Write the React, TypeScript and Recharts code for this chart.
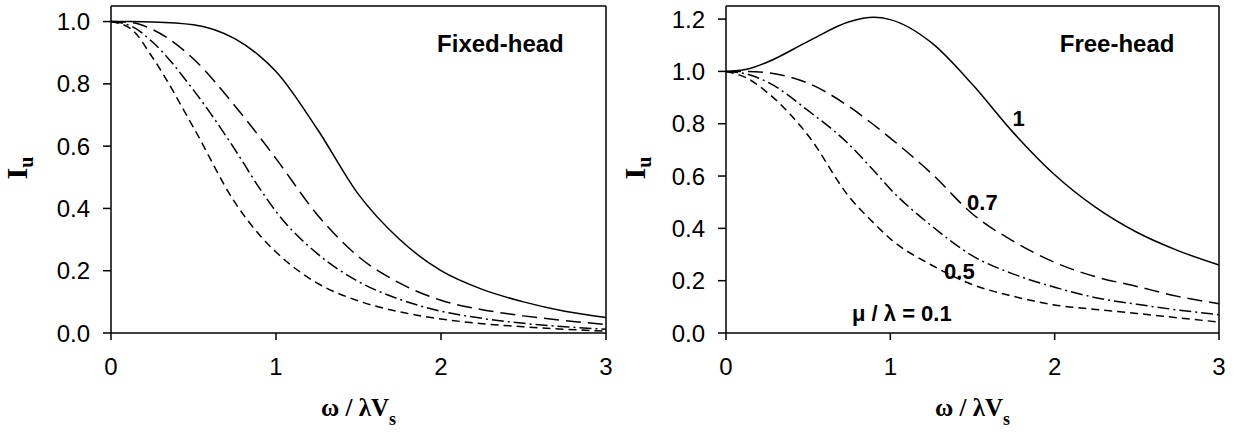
import React from 'react';
import { LineChart, Line, XAxis, YAxis, ReferenceLine, ReferenceDot } from 'recharts';

// x = omega / (lambda Vs)
const xs = [0, 0.125, 0.25, 0.5, 0.75, 0.9, 1.0, 1.25, 1.5, 1.75, 2.0, 2.25, 2.5, 2.75, 3.0];

// Fixed-head, I_u for mu/lambda = 1, 0.7, 0.5, 0.1
const fixedMu1 = [1.0, 1.0, 0.999, 0.99, 0.945, 0.89, 0.84, 0.655, 0.445, 0.3, 0.2, 0.14, 0.1, 0.07, 0.05];
const fixedMu07 = [1.0, 0.997, 0.975, 0.88, 0.73, 0.63, 0.56, 0.38, 0.245, 0.16, 0.105, 0.075, 0.055, 0.04, 0.027];
const fixedMu05 = [1.0, 0.985, 0.935, 0.78, 0.59, 0.465, 0.39, 0.255, 0.165, 0.108, 0.07, 0.047, 0.031, 0.02, 0.012];
const fixedMu01 = [1.0, 0.975, 0.886, 0.66, 0.42, 0.315, 0.26, 0.16, 0.103, 0.068, 0.045, 0.03, 0.02, 0.012, 0.006];

// Free-head
const freeMu1 = [1.0, 1.008, 1.035, 1.115, 1.19, 1.207, 1.198, 1.11, 0.95, 0.765, 0.605, 0.48, 0.385, 0.315, 0.26];
const freeMu07 = [1.0, 1.0, 0.995, 0.955, 0.865, 0.795, 0.745, 0.61, 0.455, 0.35, 0.27, 0.215, 0.178, 0.14, 0.112];
const freeMu05 = [1.0, 0.99, 0.96, 0.85, 0.72, 0.62, 0.55, 0.41, 0.295, 0.225, 0.175, 0.135, 0.11, 0.088, 0.07];
const freeMu01 = [1.0, 0.975, 0.92, 0.755, 0.52, 0.42, 0.36, 0.26, 0.185, 0.14, 0.107, 0.09, 0.075, 0.058, 0.042];

const xTicks = [0, 1, 2, 3];
const fixedYTicks = [0, 0.2, 0.4, 0.6, 0.8, 1.0];
const freeYTicks = [0, 0.2, 0.4, 0.6, 0.8, 1.0, 1.2];

const fixedData = xs.map((x, i) => ({ x, a: fixedMu1[i], b: fixedMu07[i], c: fixedMu05[i], d: fixedMu01[i] }));
const freeData = xs.map((x, i) => ({ x, a: freeMu1[i], b: freeMu07[i], c: freeMu05[i], d: freeMu01[i] }));

const sans = 'Liberation Sans, Arial, sans-serif';
const serif = 'Liberation Serif, Times New Roman, serif';
const tickStyle = { fill: '#000', fontSize: 24, fontFamily: sans };

const XTitle = (props: any) => {
  const vb = props.viewBox;
  const cx = vb.x + vb.width / 2;
  return (
    <text x={cx} y={416} textAnchor="middle" fontFamily={serif} fontWeight="bold" fontSize={25} fill="#000">
      <tspan>ω / λV</tspan>
      <tspan fontSize={18} dy={9}>s</tspan>
    </text>
  );
};

const makeYTitle = (cx: number) => (props: any) => {
  const cy = 168;
  return (
    <text x={cx} y={cy} transform={`rotate(-90, ${cx}, ${cy})`} textAnchor="middle" dominantBaseline="middle"
      fontFamily={serif} fontWeight="bold" fontSize={30} fill="#000">
      <tspan>I</tspan>
      <tspan fontSize={20} dy={8}>u</tspan>
    </text>
  );
};

const note = (value: string, size = 22) => ({
  value,
  position: 'center' as const,
  fill: '#000',
  fontSize: size,
  fontWeight: 'bold',
  fontFamily: sans,
});

const series = [
  { key: 'a', dash: undefined },
  { key: 'b', dash: '15 7' },
  { key: 'c', dash: '12 4 2 4' },
  { key: 'd', dash: '8 5' },
];

const Panel = ({ data, yTop, yTicks, left, width, margin, yTitleX, children }: any) => (
  <div style={{ position: 'absolute', left, top: 0 }}>
    <LineChart width={width} height={432} data={data} margin={margin}>
      <XAxis dataKey="x" type="number" domain={[0, 3]} ticks={xTicks} tick={tickStyle}
        tickSize={7} tickMargin={18} height={30} axisLine={{ stroke: '#000', strokeWidth: 1.5 }}
        tickLine={{ stroke: '#000', strokeWidth: 1.5 }} label={{ content: XTitle }} />
      <YAxis type="number" domain={[0, yTop]} ticks={yTicks} tick={tickStyle} width={60}
        tickFormatter={(v: number) => v.toFixed(1)} tickSize={8} tickMargin={13}
        axisLine={{ stroke: '#000', strokeWidth: 1.5 }} tickLine={{ stroke: '#000', strokeWidth: 1.5 }}
        label={{ content: makeYTitle(yTitleX) }} />
      <ReferenceLine y={yTop} stroke="#000" strokeWidth={1.5} />
      <ReferenceLine x={3} stroke="#000" strokeWidth={1.5} />
      {series.map((s) => (
        <Line key={s.key} type="monotone" dataKey={s.key} stroke="#000" strokeWidth={1.5}
          strokeDasharray={s.dash} dot={false} isAnimationActive={false} />
      ))}
      {children}
    </LineChart>
  </div>
);

export default function App() {
  return (
    <div style={{ position: 'absolute', left: 0, top: 0, width: 1239, height: 432, background: '#fff' }}>
      <Panel data={fixedData} yTop={1.05} yTicks={fixedYTicks} left={0} width={620}
        margin={{ top: 6, right: 14, left: 51, bottom: 69 }} yTitleX={20}>
        <ReferenceDot x={2.36} y={0.93} r={0} stroke="none" fill="none" label={note('Fixed-head', 24)} />
      </Panel>
      <Panel data={freeData} yTop={1.25} yTicks={freeYTicks} left={600} width={639}
        margin={{ top: 6, right: 20, left: 66, bottom: 69 }} yTitleX={38}>
        <ReferenceDot x={2.38} y={1.105} r={0} stroke="none" fill="none" label={note('Free-head', 24)} />
        <ReferenceDot x={1.78} y={0.82} r={0} stroke="none" fill="none" label={note('1')} />
        <ReferenceDot x={1.56} y={0.5} r={0} stroke="none" fill="none" label={note('0.7')} />
        <ReferenceDot x={1.42} y={0.235} r={0} stroke="none" fill="none" label={note('0.5')} />
        <ReferenceDot x={1.07} y={0.076} r={0} stroke="none" fill="none" label={note('μ / λ = 0.1')} />
      </Panel>
    </div>
  );
}
